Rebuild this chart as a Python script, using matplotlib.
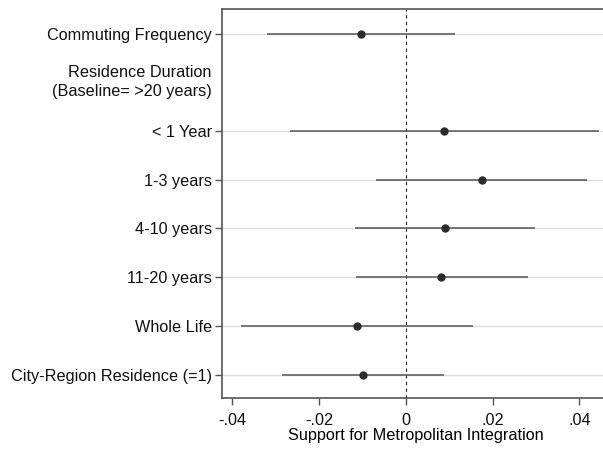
import matplotlib
matplotlib.use('Agg')
import matplotlib.pyplot as plt

# coefficient estimates with 95% CI
labels = ['Commuting Frequency', '< 1 Year', '1-3 years', '4-10 years',
          '11-20 years', 'Whole Life', 'City-Region Residence (=1)']
rows = [1, 3, 4, 5, 6, 7, 8]
coef = [-0.0103, 0.0089, 0.0175, 0.0090, 0.0082, -0.0112, -0.0099]
ci_low = [-0.0321, -0.0267, -0.0069, -0.0118, -0.0115, -0.0379, -0.0285]
ci_high = [0.0114, 0.0446, 0.0418, 0.0298, 0.0281, 0.0154, 0.0088]
header = 'Residence Duration\n(Baseline= >20 years)'
header_row = 2
xticks = [-0.04, -0.02, 0, 0.02, 0.04]
xticklabels = ['-.04', '-.02', '0', '.02', '.04']

plt.rcParams['font.family'] = ['Liberation Sans', 'DejaVu Sans']
plt.rcParams['font.size'] = 11.7

fig = plt.figure(figsize=(6.03, 4.49), dpi=100)
ax = fig.add_axes([0.368, 0.1136, 0.644, 0.866])

for r in rows:
    ax.axhline(r, color='#dedede', linewidth=1, zorder=0)

ax.axvline(0, color='#222222', linewidth=0.8, linestyle=(0, (3, 3)), zorder=1)

ax.hlines(rows, ci_low, ci_high, color='#555555', linewidth=1.1, zorder=2)
ax.plot(coef, rows, 'o', color='#2b2b2b', markersize=5, zorder=3)

ax.set_ylim(8.48, 0.5)
ax.set_xlim(-0.0424, 0.0471)
ax.set_yticks(rows)
ax.set_yticklabels(labels)
ax.set_xticks(xticks)
ax.set_xticklabels(xticklabels)

ax.text(-0.026, header_row, header, transform=ax.get_yaxis_transform(),
        ha='right', va='center', color='#111111',
        multialignment='right', linespacing=1.3)

for s in ['top', 'left', 'bottom']:
    ax.spines[s].set_color('#555555')
    ax.spines[s].set_linewidth(1.2)
ax.spines['right'].set_visible(False)
ax.tick_params(axis='both', length=5, width=1, color='#555555',
               labelcolor='#111111', pad=2)
ax.tick_params(axis='x', pad=6)

ax.set_xlabel('Support for Metropolitan Integration', labelpad=0)

fig.savefig('out.png', dpi=100)
